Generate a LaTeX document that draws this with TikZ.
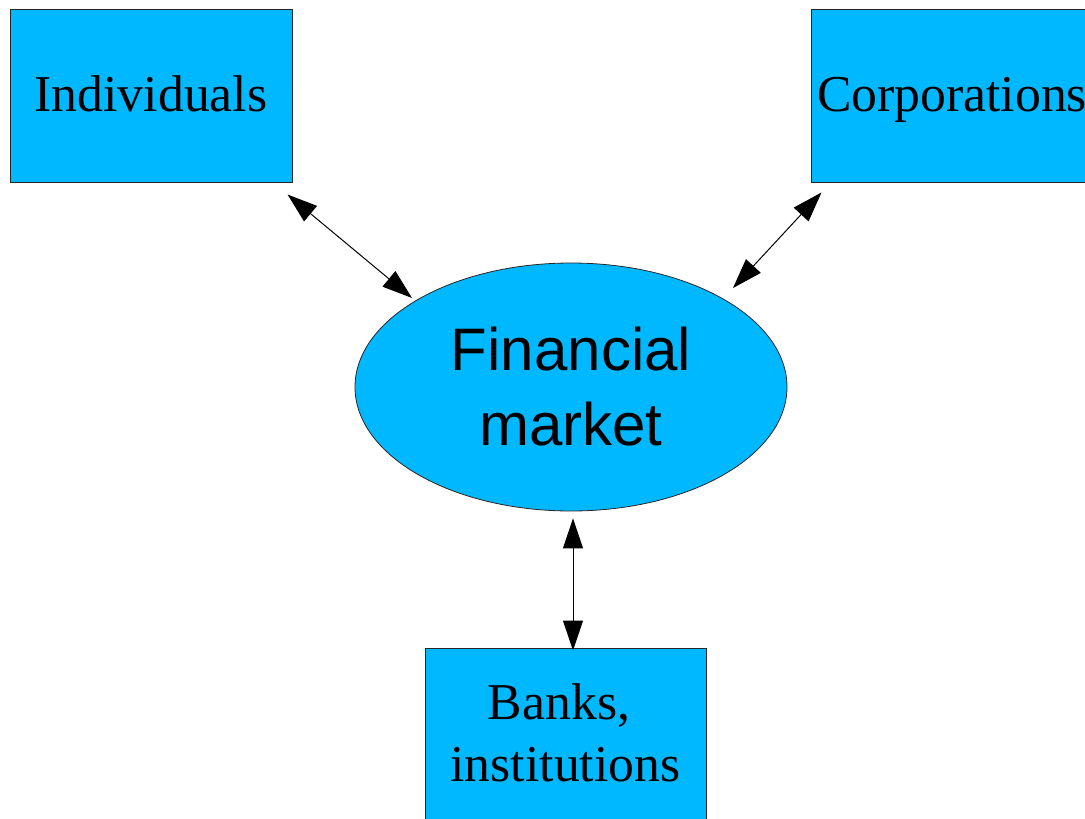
\documentclass[tikz,border=0pt]{standalone}
\usepackage{fontspec}
\setmainfont{Liberation Serif}
\newfontfamily\fmsans{Liberation Sans}
\usetikzlibrary{arrows.meta,shapes.geometric}
\definecolor{boxfill}{RGB}{0,184,255}
\newcommand\lstrut{\rule[-0.216em]{0pt}{1.04em}}
\newcommand\estrut{\rule[-0.166em]{0pt}{1.04em}}
\begin{document}
\begin{tikzpicture}[x=1pt,y=-1pt,
  boxnode/.style={draw=black!85,line width=1pt,fill=boxfill,rectangle,
    minimum width=282pt,minimum height=173pt,inner sep=0pt,
    align=center,font=\fontsize{51.7}{62}\selectfont},
  marketnode/.style={draw=black!85,line width=0.8pt,fill=boxfill,ellipse,
    minimum width=432pt,minimum height=248pt,inner sep=0pt,
    align=center,font=\fmsans\fontsize{60}{75}\selectfont},
  dbl/.style={{Triangle[length=30pt,width=20pt]}-{Triangle[length=30pt,width=20pt]},
    line width=1pt,black}]
\useasboundingbox (0,0) rectangle (1085,819);
\node[boxnode] (ind) at (151,95.5) {\lstrut Individuals};
\node[boxnode] (corp) at (952,95.5) {\lstrut Corporations};
\node[boxnode,minimum width=281pt] (banks) at (565.5,734.5) {\lstrut Banks,\hspace*{0.25em}\\\lstrut institutions};
\node[marketnode] (fm) at (571,387) {\estrut Financial\\\estrut market};
\coordinate (c1) at ([shift={(-5,12)}]ind.south east);
\coordinate (c2) at ([shift={(-159,-89)}]fm.center);
\coordinate (c3) at ([shift={(11,10)}]corp.south west);
\coordinate (c4) at ([shift={(162,-99)}]fm.center);
\coordinate (c5) at ([shift={(2,7)}]fm.south);
\coordinate (c6) at ([shift={(7.5,3)}]banks.north);
\draw[dbl] (c1) -- (c2);
\draw[dbl] (c3) -- (c4);
\draw[dbl] (c5) -- (c6);
\end{tikzpicture}
\end{document}
